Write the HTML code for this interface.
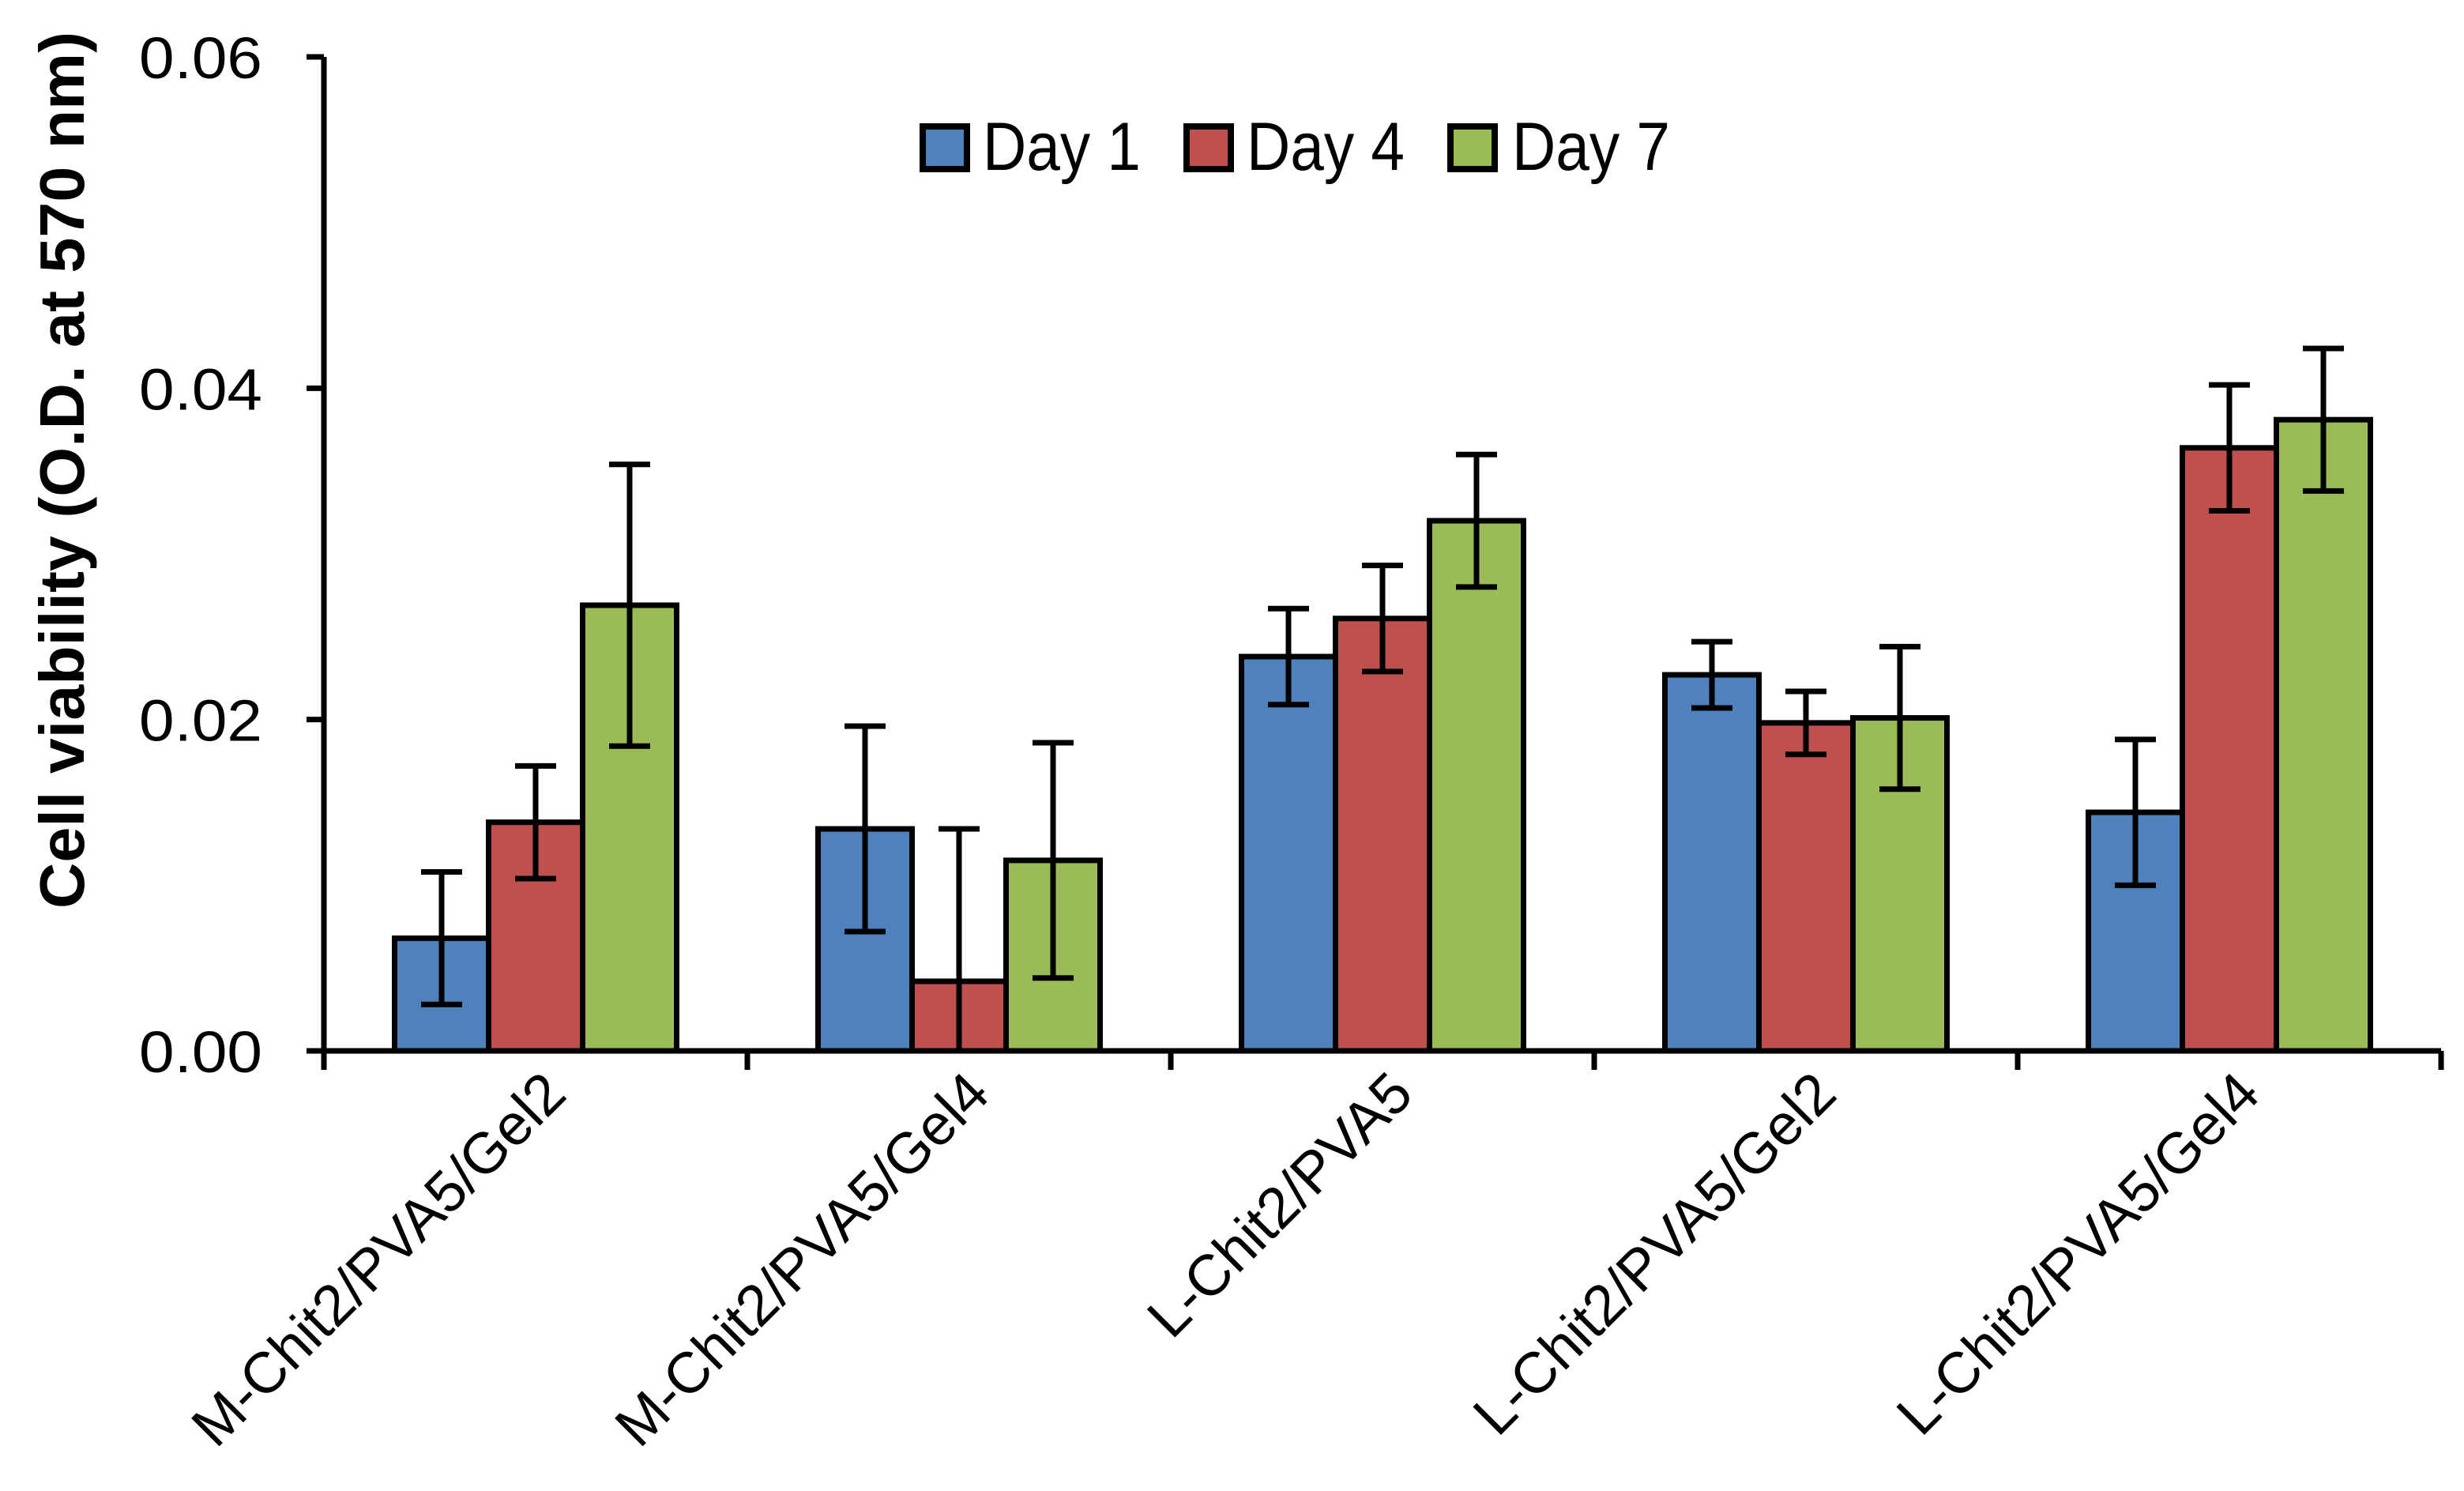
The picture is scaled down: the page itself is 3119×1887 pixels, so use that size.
<!DOCTYPE html>
<html><head><meta charset="utf-8"><style>
html,body{margin:0;padding:0;background:#fff;}
svg{display:block;}
text{font-family:"Liberation Sans",sans-serif;fill:#000;}
</style></head>
<body>
<svg id="chart" width="3119" height="1887" viewBox="0 0 3119 1887" xmlns="http://www.w3.org/2000/svg">
<g id="axes"></g>
<g id="bars"></g>
<g id="errs"></g>
<text transform="translate(106,595) rotate(-90)" text-anchor="middle" font-size="80" font-weight="bold" textLength="1110" lengthAdjust="spacingAndGlyphs">Cell viability (O.D. at 570 nm)</text>
<g>
  <g><rect x="1168" y="160" width="56" height="54" fill="#4f81bd" stroke="#000" stroke-width="8"/><text x="1244" y="215" font-size="86" textLength="200" lengthAdjust="spacingAndGlyphs">Day 1</text></g>
  <g><rect x="1502" y="160" width="56" height="54" fill="#c0504d" stroke="#000" stroke-width="8"/><text x="1578" y="215" font-size="86" textLength="200" lengthAdjust="spacingAndGlyphs">Day 4</text></g>
  <g><rect x="1836" y="160" width="56" height="54" fill="#9bbb59" stroke="#000" stroke-width="8"/><text x="1914" y="215" font-size="86" textLength="200" lengthAdjust="spacingAndGlyphs">Day 7</text></g>
</g>
</svg>
<script>
const categories = ["M-Chit2/PVA5/Gel2","M-Chit2/PVA5/Gel4","L-Chit2/PVA5","L-Chit2/PVA5/Gel2","L-Chit2/PVA5/Gel4"];
const day1 = [0.0068,0.0134,0.0238,0.0227,0.0144];
const day4 = [0.0138,0.0042,0.0261,0.0198,0.0364];
const day7 = [0.0269,0.0115,0.0320,0.0201,0.0381];
const err1 = [0.0040,0.0062,0.0029,0.0020,0.0044];
const err4 = [0.0034,0.0092,0.0032,0.0019,0.0038];
const err7 = [0.0085,0.0071,0.0040,0.0043,0.0043];
const yTicks = [0,0.02,0.04,0.06];
const yTickLabels = ["0.00","0.02","0.04","0.06"];

const NS="http://www.w3.org/2000/svg";
const X0=410, X1=3090, Y0=1330, Y1=72, YMAX=0.06;
const catW=(X1-X0)/categories.length;
const barW=119;
function y(v){return Y0-(v/YMAX)*(Y0-Y1);}
function cx(i){return X0+catW*(i+0.5);}
function mk(tag,attrs,parent){const e=document.createElementNS(NS,tag);for(const k in attrs)e.setAttribute(k,attrs[k]);parent.appendChild(e);return e;}
const axes=document.getElementById('axes'), bars=document.getElementById('bars'), errs=document.getElementById('errs');

let l=mk('line',{x1:X0,y1:Y1,x2:X0,y2:Y0+24,stroke:'#000','stroke-width':7},axes);


l=mk('line',{x1:X0-22,y1:Y0,x2:X1,y2:Y0,stroke:'#000','stroke-width':7},axes);


yTicks.forEach((t,i)=>{
  const tk=mk('line',{x1:X0-22,y1:y(t),x2:X0,y2:y(t),stroke:'#000','stroke-width':7},axes);
  
  
  const tx=mk('text',{x:332,y:y(t)+27,'text-anchor':'end','font-size':74,textLength:156,lengthAdjust:'spacingAndGlyphs'},axes);
  tx.textContent=yTickLabels[i];
  
  
});
for(let i=0;i<=categories.length;i++){
  const xx=X0+catW*i;
  const tk=mk('line',{x1:xx,y1:Y0,x2:xx,y2:Y0+24,stroke:'#000','stroke-width':7},axes);
  
  
}
categories.forEach((c,i)=>{
  const tx=mk('text',{'text-anchor':'end','font-size':73,transform:`translate(${cx(i)+42},${Y0+58}) rotate(-45)`},axes);
  tx.textContent=c;
  
  
});
const series=[[day1,err1,'#4f81bd','day1'],[day4,err4,'#c0504d','day4'],[day7,err7,'#9bbb59','day7']];
series.forEach((s,si)=>{
  s[0].forEach((v,i)=>{
    const bx=cx(i)+(si-1)*barW-barW/2;
    const r=mk('rect',{x:bx,y:y(v),width:barW,height:Y0-y(v),fill:s[2],stroke:'#000','stroke-width':7},bars);
    
    
    const ex=bx+barW/2, top=y(v+s[1][i]), bot=y(Math.max(0,v-s[1][i]));
    const g=mk('g',{stroke:'#000','stroke-width':7},errs);
    
    
    mk('line',{x1:ex,y1:top,x2:ex,y2:bot},g);
    mk('line',{x1:ex-26,y1:top,x2:ex+26,y2:top},g);
    mk('line',{x1:ex-26,y1:bot,x2:ex+26,y2:bot},g);
  });
});
</script>
</body></html>
